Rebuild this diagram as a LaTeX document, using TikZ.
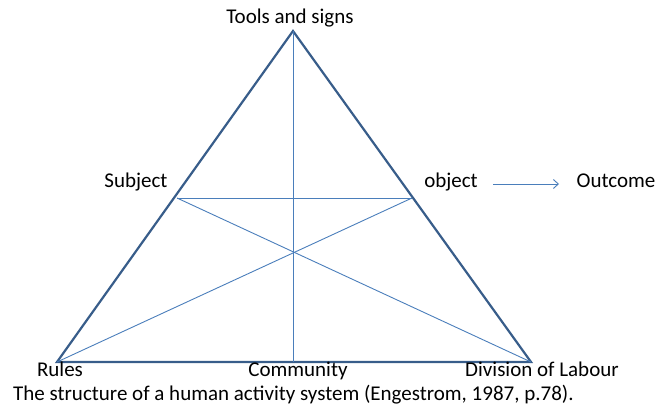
\documentclass[tikz,border=0pt]{standalone}
\usepackage{fontspec}
\setmainfont{Carlito}
\usetikzlibrary{arrows.meta}
\definecolor{thickblue}{HTML}{385D8A}
\definecolor{thinblue}{HTML}{4A7EBB}
\begin{document}
\begin{tikzpicture}[x=1pt,y=-1pt,
  lbl/.style={inner sep=0pt,anchor=base,font=\fontsize{21}{24}\selectfont,text=black},
  thick line/.style={draw=thickblue,line width=2.2pt,line join=miter},
  thin line/.style={draw=thinblue,line width=0.9pt}]
\useasboundingbox (0,0) rectangle (657,407);
\coordinate (T) at (293,31);
\coordinate (R) at (57,362);
\coordinate (D) at (531,362);
\coordinate (S) at (177,198);
\coordinate (O) at (412,198);
\coordinate (C) at (293,362);
\draw[thick line] (T) -- (D) -- (R) -- cycle;
\draw[thin line] (T) -- (C);
\draw[thin line] (S) -- (O);
\draw[thin line] (S) -- (D);
\draw[thin line] (O) -- (R);
\node[lbl] (tools) at (290,23) {Tools and signs};
\node[lbl] (subj) at (136,187) {Subject};
\node[lbl] (obj) at (451,187) {object};
\node[lbl] (out) at (616,187) {Outcome};
\node[lbl] (rules) at (60,376) {Rules};
\node[lbl] (comm) at (298,376) {Community};
\node[lbl] (div) at (542,376) {Division of Labour};
\node[lbl,anchor=base west] (cap) at (13,400) {The structure of a human activity system (Engestrom, 1987, p.78).};
\coordinate (a1) at (493,184);
\coordinate (a2) at (559,184);
\draw[thin line,-{Straight Barb[length=5pt,width=9pt]}] (a1) -- (a2);
\end{tikzpicture}
\end{document}
